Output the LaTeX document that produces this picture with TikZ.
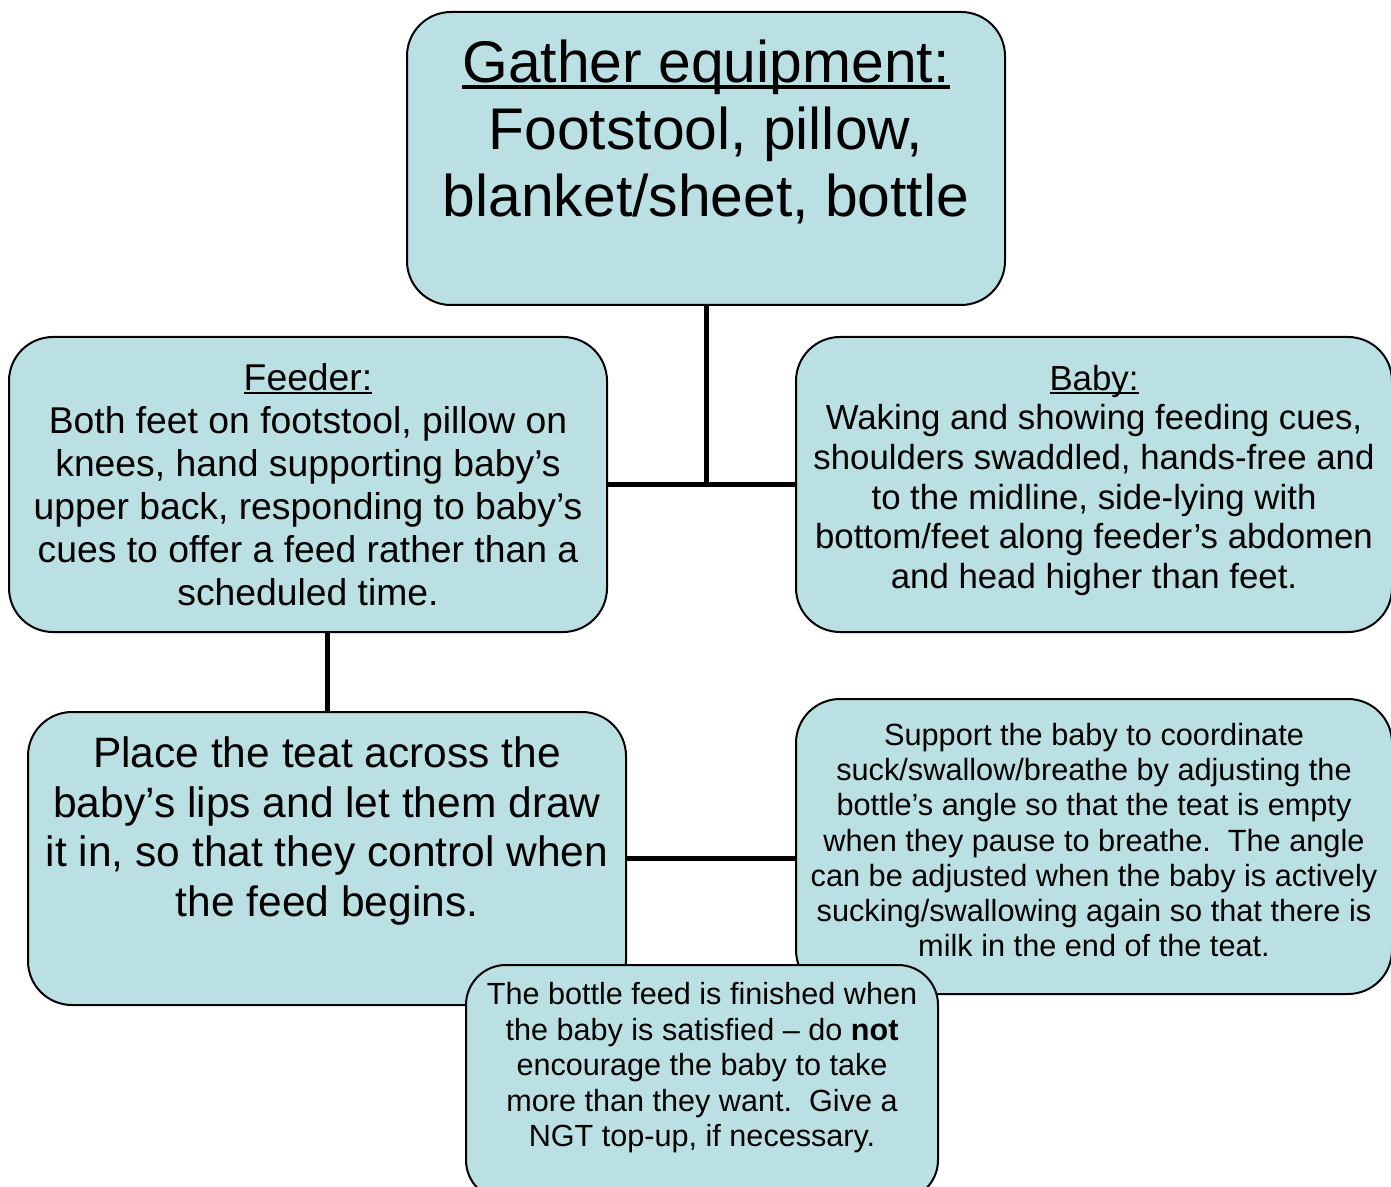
\documentclass[tikz,border=0pt]{standalone}
\usepackage{fontspec}
\setmainfont{Liberation Sans}
\usetikzlibrary{positioning}
\definecolor{boxblue}{HTML}{BBE0E3}
\newcommand\headline[1]{\setbox0\hbox{#1}\rlap{\rule[-0.11em]{\wd0}{0.065em}}\box0}

\begin{document}
\begin{tikzpicture}[x=0.5pt, y=-0.5pt,
  card/.style={rectangle, draw=black, line width=1pt, fill=boxblue, rounded corners=22pt,
    align=center, inner sep=0pt},
  link/.style={line width=2.5pt, draw=black}
]
\path[use as bounding box, clip] (0,0) rectangle (1391,1187);

\node[card, minimum width=299pt, minimum height=146.5pt, font=\fontsize{29.4}{33.5}\selectfont] (gather) at (706,158.5)
  {\headline{Gather equipment:}\\Footstool, pillow,\\blanket/sheet, bottle\\[-3pt]\mbox{}};

\node[card, minimum width=299pt, minimum height=147.5pt, font=\fontsize{18.65}{21.5}\selectfont] (feeder) at (308,484.5)
  {\headline{Feeder:}\\Both feet on footstool, pillow on\\knees, hand supporting baby’s\\upper back, responding to baby’s\\cues to offer a feed rather than a\\scheduled time.};

\node[card, minimum width=298pt, minimum height=147.5pt, font=\fontsize{17.4}{19.8}\selectfont] (baby) at (1094,484.5)
  {\headline{Baby:}\\Waking and showing feeding cues,\\shoulders swaddled, hands-free and\\to the midline, side-lying with\\bottom/feet along feeder’s abdomen\\and head higher than feet.\\[-12pt]\mbox{}};

\node[card, minimum width=299pt, minimum height=146.5pt, font=\fontsize{21.25}{24.75}\selectfont] (place) at (327,858.5)
  {Place the teat across the\\baby’s lips and let them draw\\it in, so that they control when\\the feed begins.\\[7pt]\mbox{}};

\node[card, minimum width=298pt, minimum height=147.5pt, font=\fontsize{15.35}{17.6}\selectfont] (support) at (1094,846.5)
  {Support the baby to coordinate\\suck/swallow/breathe by adjusting the\\bottle’s angle so that the teat is empty\\when they pause to breathe.\ \ The angle\\can be adjusted when the baby is actively\\sucking/swallowing again so that there is\\milk in the end of the teat.\\[-11pt]\mbox{}};

\node[card, minimum width=236pt, minimum height=117.5pt, rounded corners=20pt, font=\fontsize{15.3}{17.75}\selectfont] (finish) at (702,1082.5)
  {The bottle feed is finished when\\the baby is satisfied – do \textbf{not}\\encourage the baby to take\\more than they want.\ \ Give a\\NGT top-up, if necessary.\\\mbox{}};

\draw[link] (gather.south) -- (gather.south |- feeder.east);
\draw[link] (feeder.east) -- (baby.west);
\draw[link] (place.north) -- (place.north |- feeder.south);
\draw[link] (place.east) -- (place.east -| support.west);

\end{tikzpicture}
\end{document}
